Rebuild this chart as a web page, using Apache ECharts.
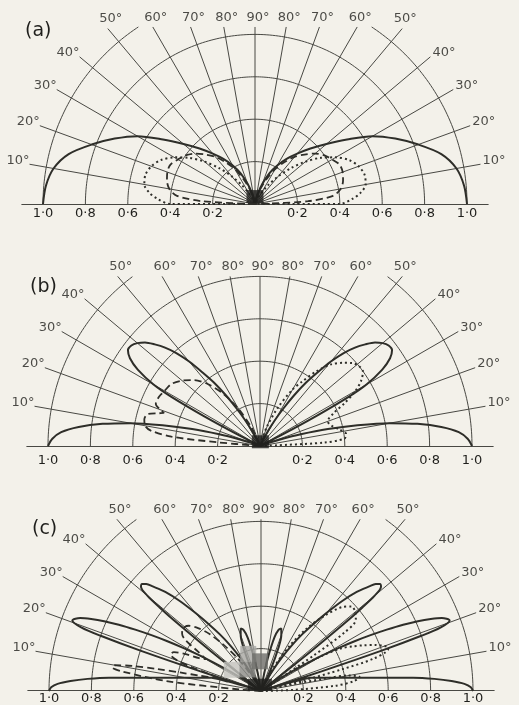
<!DOCTYPE html>
<html><head><meta charset="utf-8">
<script src="https://cdn.jsdelivr.net/npm/echarts@6/dist/echarts.min.js"></script>
<style>html,body{margin:0;padding:0;background:#f3f1ea}#c{width:519px;height:705px}</style>
</head><body><div id="c"></div>
<script>
// ---------- data (angles in degrees measured from the horizontal on each side, r = relative field) ----------
const panelNames = ['(a)', '(b)', '(c)'];
const axisTicks = [-1.0, -0.8, -0.6, -0.4, -0.2, 0.2, 0.4, 0.6, 0.8, 1.0];
const circleRadii = [0.2, 0.4, 0.6, 0.8];
const outerCircle = 1.0;
const spokeDegs = [10, 20, 30, 40, 50, 60, 70, 80, 90];
const spokeLabels = ['10°', '20°', '30°', '40°', '50°', '60°', '70°', '80°', '90°'];

// (a) symmetric patterns
const aSolidDeg = [0, 5, 10, 15, 20, 25, 30, 35, 40, 45, 50, 55, 60, 65, 70, 75, 80, 85, 90];
const aSolidR   = [1.00, 0.99, 0.965, 0.91, 0.82, 0.73, 0.64, 0.53, 0.44, 0.37, 0.31, 0.26, 0.21, 0.16, 0.10, 0.05, 0.02, 0, 0];
const aDotDeg   = [0, 0, 3, 6, 10, 15, 20, 25, 30, 35, 40, 45, 50, 55, 60, 65, 70, 90];
const aDotR     = [0, 0.40, 0.46, 0.50, 0.53, 0.535, 0.52, 0.49, 0.44, 0.38, 0.31, 0.24, 0.17, 0.11, 0.06, 0.03, 0, 0];
const aDashDeg  = [0, 3, 6, 10, 15, 20, 25, 30, 35, 40, 45, 50, 55, 60, 65, 70, 75, 80, 90];
const aDashR    = [0, 0.25, 0.37, 0.41, 0.43, 0.44, 0.44, 0.42, 0.40, 0.37, 0.33, 0.29, 0.24, 0.19, 0.13, 0.08, 0.04, 0, 0];

// (b) solid symmetric, dashed on the left, dotted on the right
const bSolidDeg = [0, 2, 4, 6, 8, 10, 12, 14, 16, 18, 20, 22, 26, 27, 28, 29, 30, 32, 34, 36, 38, 40, 42, 44, 46, 48, 50, 52, 54, 56, 58, 60, 62, 64, 66, 90];
const bSolidR   = [1.00, 0.98, 0.94, 0.86, 0.75, 0.62, 0.47, 0.33, 0.20, 0.10, 0.04, 0, 0, 0.12, 0.30, 0.48, 0.58, 0.68, 0.74, 0.77, 0.77, 0.755, 0.73, 0.69, 0.645, 0.59, 0.52, 0.44, 0.37, 0.29, 0.21, 0.14, 0.08, 0.03, 0, 0];
const bDashDeg  = [0, 4, 5, 6, 8, 10, 13, 16, 18, 19, 20, 22, 26, 30, 35, 40, 45, 50, 55, 60, 65, 70, 75, 90];
const bDashR    = [0, 0, 0.20, 0.42, 0.52, 0.55, 0.56, 0.55, 0.50, 0.48, 0.50, 0.53, 0.53, 0.52, 0.51, 0.48, 0.44, 0.38, 0.30, 0.20, 0.10, 0.03, 0, 0];
const bDotDeg   = [0, 3, 5, 8, 12, 16, 20, 24, 27, 30, 33, 36, 39, 42, 45, 49, 53, 57, 60, 65, 70, 75, 80];
const bDotR     = [0, 0.30, 0.40, 0.41, 0.38, 0.35, 0.34, 0.38, 0.45, 0.52, 0.57, 0.60, 0.60, 0.585, 0.555, 0.51, 0.44, 0.36, 0.31, 0.20, 0.10, 0.03, 0];

// (c) solid symmetric, dashed on the left, dotted on the right
const cSolidDeg = [0, 1, 2, 3, 4, 5, 6, 7, 8, 10, 12, 14, 15, 16, 17, 17.5,
  18, 18.5, 19, 19.5, 20.5, 22, 23, 24, 25, 26, 27, 28, 29, 30, 31, 32, 33, 34, 35,
  38, 38.5, 39, 39.5, 40, 41, 42, 43, 44, 46, 48, 50, 52, 54, 56, 58, 60, 62, 64, 65,
  66, 68, 70, 72, 74, 76, 78, 80, 82, 90];
const cSolidR = [1.00, 0.99, 0.96, 0.90, 0.82, 0.72, 0.60, 0.51, 0.45, 0.36, 0.30, 0.26, 0.24, 0.16, 0.05, 0,
  0.30, 0.60, 0.80, 0.90, 0.95, 0.92, 0.87, 0.81, 0.74, 0.66, 0.58, 0.50, 0.42, 0.34, 0.26, 0.19, 0.12, 0.06, 0,
  0, 0.30, 0.50, 0.62, 0.70, 0.75, 0.755, 0.74, 0.71, 0.65, 0.57, 0.48, 0.40, 0.33, 0.26, 0.19, 0.12, 0.06, 0.02, 0,
  0.12, 0.22, 0.28, 0.31, 0.30, 0.26, 0.17, 0.07, 0, 0];
const cDashDeg = [0, 4, 6, 8, 9, 10, 11, 12, 13, 14, 16, 17, 18, 19, 20, 22, 24, 26, 28, 30, 32, 34, 36, 38, 40, 42, 45, 48, 51, 54, 57, 60, 62, 90];
const cDashR   = [0, 0.10, 0.45, 0.66, 0.71, 0.70, 0.62, 0.50, 0.38, 0.30, 0.22, 0.20, 0.25, 0.35, 0.42, 0.46, 0.45, 0.40, 0.33, 0.30, 0.35, 0.43, 0.46, 0.47, 0.47, 0.46, 0.42, 0.36, 0.28, 0.20, 0.12, 0.05, 0, 0];
const cDotDeg  = [0, 2, 4, 6, 8, 10, 11, 12, 13, 14, 15, 16, 18, 19, 20, 22, 24, 26, 28, 30, 32, 33, 34, 35, 37, 40, 43, 46, 50, 54, 58, 62, 65, 67, 90];
const cDotR    = [0, 0.15, 0.35, 0.44, 0.47, 0.42, 0.30, 0.15, 0, 0.20, 0.40, 0.55, 0.63, 0.635, 0.62, 0.58, 0.53, 0.48, 0.43, 0.33, 0.20, 0.05, 0.30, 0.48, 0.56, 0.58, 0.585, 0.55, 0.46, 0.36, 0.24, 0.12, 0.04, 0, 0];

// ink blots where the spokes converge ([r, angle] in the polar frame)
const hubR   = [0.035, 0.02, 0.03];
const hubDeg = [90, 95, 80];
const cBlockR   = [0.17, 0.12, 0.185, 0.14];
const cBlockDeg = [36, 58, 71, 88];

// ---------- layout & style ----------
const FONT = 'DejaVu Sans';
const INK = '#1f1f1c', GRIDC = '#484843', CURVE = '#2e2e29';
const panels = [
  {cx: 255, by: 204, R: 212, T: 0.835, margin: 3, tl: 20, tt: 17},
  {cx: 260, by: 446, R: 212, T: 0.80,  margin: 8, tl: 25, tt: 273},
  {cx: 261, by: 691, R: 212, T: 0.81,  margin: 2, tl: 27, tt: 515}
];
const lineStyles = {
  solid: {color: CURVE, width: 2},
  dot:   {color: CURVE, width: 2, type: [2, 3]},
  dash:  {color: CURVE, width: 1.8, type: [7, 4]}
};

function leftPts(deg, r) { return deg.map((d, i) => [r[i], d]); }
function rightPts(deg, r) { return deg.map((d, i) => [r[i], 180 - d]); }
function bothPts(deg, r) { return leftPts(deg, r).concat(rightPts(deg, r).reverse()); }

const panelCurves = [
  [['solid', bothPts(aSolidDeg, aSolidR)], ['dot', bothPts(aDotDeg, aDotR)], ['dash', bothPts(aDashDeg, aDashR)]],
  [['solid', bothPts(bSolidDeg, bSolidR)], ['dash', leftPts(bDashDeg, bDashR)], ['dot', rightPts(bDotDeg, bDotR)]],
  [['solid', bothPts(cSolidDeg, cSolidR)], ['dash', leftPts(cDashDeg, cDashR)], ['dot', rightPts(cDotDeg, cDotR)]]
];

const option = {
  backgroundColor: '#f3f1ea', animation: false,
  title: [], grid: [], xAxis: [], yAxis: [], polar: [], angleAxis: [], radiusAxis: [], series: []
};

panels.forEach((p, i) => {
  option.title.push({text: panelNames[i], left: p.tl, top: p.tt,
    textStyle: {fontFamily: FONT, fontSize: 19, fontWeight: 'normal', color: INK}});
  option.grid.push({left: p.cx - 1.1 * p.R, top: p.by - 20, width: 2.2 * p.R, height: 20});
  option.xAxis.push({gridIndex: i, type: 'value', min: -1.1, max: 1.1,
    axisLine: {show: true, lineStyle: {color: GRIDC, width: 1}},
    axisTick: {show: false}, splitLine: {show: false},
    axisLabel: {customValues: axisTicks, margin: p.margin, fontFamily: FONT, fontSize: 13, color: INK,
      formatter: v => Math.abs(v).toFixed(1).replace('.', '·')}});
  option.yAxis.push({gridIndex: i, type: 'value', min: 0, max: 1, show: false});
  option.polar.push({center: [p.cx, p.by], radius: 1.1 * p.R});
  option.angleAxis.push({polarIndex: i, type: 'value', min: 0, max: 360, startAngle: 180, clockwise: true,
    show: false, axisLine: {show: false}, splitLine: {show: false}, axisLabel: {show: false}, axisTick: {show: false}});
  option.radiusAxis.push({polarIndex: i, type: 'value', min: 0, max: 1.1, show: false,
    axisLine: {show: false}, splitLine: {show: false}, axisLabel: {show: false}, axisTick: {show: false}});

  const gridLine = (data) => ({type: 'line', coordinateSystem: 'polar', polarIndex: i, data, symbol: 'none',
    silent: true, clip: false, z: 1, lineStyle: {color: GRIDC, width: 1}});

  // range circles
  circleRadii.forEach(r => {
    const d = [];
    for (let a = 0; a <= 180; a += 1) d.push([r, a]);
    option.series.push(gridLine(d));
  });
  // outer circle, cut by the label row
  const aMax = Math.asin(p.T) * 180 / Math.PI;
  const o1 = [], o2 = [];
  for (let a = 0; a <= aMax; a += 1) { o1.push([outerCircle, a]); o2.push([outerCircle, 180 - a]); }
  o1.push([outerCircle, aMax]); o2.push([outerCircle, 180 - aMax]);
  option.series.push(gridLine(o1), gridLine(o2));

  // spokes and their labels
  const labelData = [];
  spokeDegs.forEach((d, k) => {
    const L = Math.min(1.08, p.T / Math.sin(d * Math.PI / 180));
    const sides = d === 90 ? [90] : [d, 180 - d];
    sides.forEach(v => {
      option.series.push(gridLine([[0, v], [L, v]]));
      let lab;
      if (d >= 50) lab = {position: 'top', distance: 3, offset: [3, 0]};
      else if (v < 90) lab = {position: 'left', distance: 0, offset: [0, -4]};
      else lab = {position: 'right', distance: 2, offset: [0, -4]};
      labelData.push({value: [L, v], label: Object.assign({show: true, formatter: spokeLabels[k],
        fontFamily: FONT, fontSize: 13, color: INK}, lab)});
    });
  });
  option.series.push({type: 'scatter', coordinateSystem: 'polar', polarIndex: i, symbolSize: 0,
    silent: true, clip: false, data: labelData, z: 5});

  // radiation patterns
  panelCurves[i].forEach(([kind, pts]) => {
    option.series.push({type: 'line', coordinateSystem: 'polar', polarIndex: i, data: pts,
      symbol: 'none', smooth: 0.3, clip: false, silent: true, z: 3, lineStyle: lineStyles[kind]});
  });

  // blots at the hub
  if (i === 2) {
    const greys = ['#c4c4bf', '#8c8c88', '#a9a9a5', '#6f6f6b'];
    option.series.push({type: 'scatter', coordinateSystem: 'polar', polarIndex: i, symbol: 'rect',
      symbolSize: 16, silent: true, clip: false, z: 4,
      data: cBlockR.map((r, k) => ({value: [r, cBlockDeg[k]], itemStyle: {color: greys[k]}}))});
  }
  option.series.push({type: 'scatter', coordinateSystem: 'polar', polarIndex: i, symbol: 'rect',
    symbolSize: i === 2 ? [24, 12] : [17, 13], silent: true, clip: false, z: 4,
    itemStyle: {color: '#1e1e1c'}, data: [[hubR[i], hubDeg[i]]]});
});

const chart = echarts.init(document.getElementById('c'), null, {renderer: 'canvas'});
chart.setOption(option);
</script></body></html>
